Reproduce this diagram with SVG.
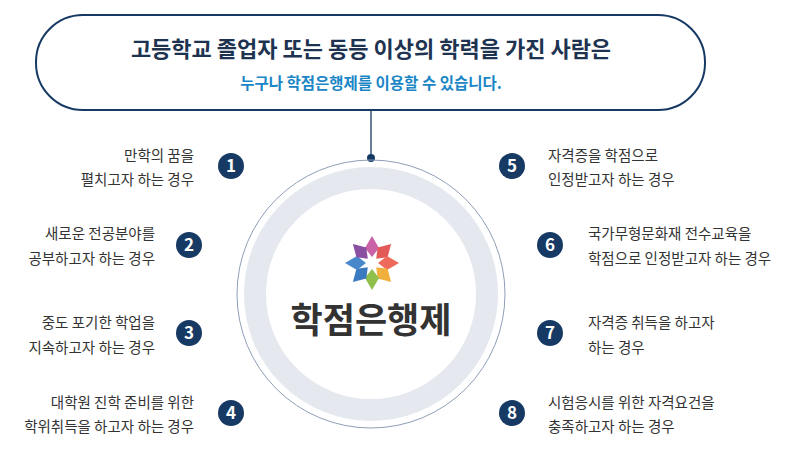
<svg xmlns="http://www.w3.org/2000/svg" width="791" height="460" viewBox="0 0 791 460">
<style>
text{font-family:"Noto Sans CJK KR","Noto Sans",sans-serif}
.n circle{fill:#173a64}
.n text{fill:#fff;font-size:17px;font-weight:bold;text-anchor:middle}
.l{fill:#333;font-size:14.5px}
.r{text-anchor:end}
</style>
<defs><path id="p" d="M0,-6 L-7,-15 L0,-27 L7,-15Z"/></defs>
<rect width="791" height="460" fill="#fff"/>
<g id="connectors">
<line x1="371" y1="110" x2="371" y2="158" stroke="#173a64" stroke-width="1.3"/>
<circle cx="371" cy="158" r="4" fill="#173a64"/>
</g>
<g id="header">
<rect x="36" y="15" width="669" height="95" rx="47" fill="#fff" stroke="#173a64" stroke-width="2"/>
<text x="371" y="57" text-anchor="middle" font-size="22" font-weight="bold" fill="#1e3350">고등학교 졸업자 또는 동등 이상의 학력을 가진 사람은</text>
<text x="371" y="89" text-anchor="middle" font-size="15.5" font-weight="bold" fill="#1a86c6">누구나 학점은행제를 이용할 수 있습니다.</text>
</g>
<g id="center">
<circle cx="371" cy="294" r="134" fill="none" stroke="#8e9fb6" stroke-width="1"/>
<circle cx="371" cy="294" r="116" fill="none" stroke="#e5e8ee" stroke-width="22"/>
<g transform="translate(372,263)">
<use href="#p" fill="#c962a6" transform="rotate(0)"/>
<use href="#p" fill="#e25a58" transform="rotate(45)"/>
<use href="#p" fill="#ef6a5a" transform="rotate(90)"/>
<use href="#p" fill="#f1b03c" transform="rotate(135)"/>
<use href="#p" fill="#90bf4b" transform="rotate(180)"/>
<use href="#p" fill="#3b79c0" transform="rotate(225)"/>
<use href="#p" fill="#4a88cc" transform="rotate(270)"/>
<use href="#p" fill="#8a4fa0" transform="rotate(315)"/>
</g>
<text x="371" y="333" text-anchor="middle" font-size="35" font-weight="bold" fill="#333">학점은행제</text>
</g>
<g id="item1"><g class="n"><circle cx="231" cy="166" r="13"/><text x="231" y="172">1</text></g>
<text class="l r" x="194" y="161">만학의 꿈을</text><text class="l r" x="194" y="185">펼치고자 하는 경우</text></g>
<g id="item2"><g class="n"><circle cx="189" cy="245" r="13"/><text x="189" y="251">2</text></g>
<text class="l r" x="155" y="239">새로운 전공분야를</text><text class="l r" x="155" y="264">공부하고자 하는 경우</text></g>
<g id="item3"><g class="n"><circle cx="189" cy="333" r="13"/><text x="189" y="339">3</text></g>
<text class="l r" x="155" y="328">중도 포기한 학업을</text><text class="l r" x="155" y="353">지속하고자 하는 경우</text></g>
<g id="item4"><g class="n"><circle cx="231" cy="413" r="13"/><text x="231" y="419">4</text></g>
<text class="l r" x="194" y="408">대학원 진학 준비를 위한</text><text class="l r" x="194" y="432">학위취득을 하고자 하는 경우</text></g>
<g id="item5"><g class="n"><circle cx="512" cy="166" r="13"/><text x="512" y="172">5</text></g>
<text class="l" x="548" y="161">자격증을 학점으로</text><text class="l" x="548" y="185">인정받고자 하는 경우</text></g>
<g id="item6"><g class="n"><circle cx="550" cy="245" r="13"/><text x="550" y="251">6</text></g>
<text class="l" x="588" y="239">국가무형문화재 전수교육을</text><text class="l" x="588" y="264">학점으로 인정받고자 하는 경우</text></g>
<g id="item7"><g class="n"><circle cx="550" cy="333" r="13"/><text x="550" y="339">7</text></g>
<text class="l" x="588" y="328">자격증 취득을 하고자</text><text class="l" x="588" y="353">하는 경우</text></g>
<g id="item8"><g class="n"><circle cx="512" cy="413" r="13"/><text x="512" y="419">8</text></g>
<text class="l" x="548" y="408">시험응시를 위한 자격요건을</text><text class="l" x="548" y="432">충족하고자 하는 경우</text></g>
</svg>
